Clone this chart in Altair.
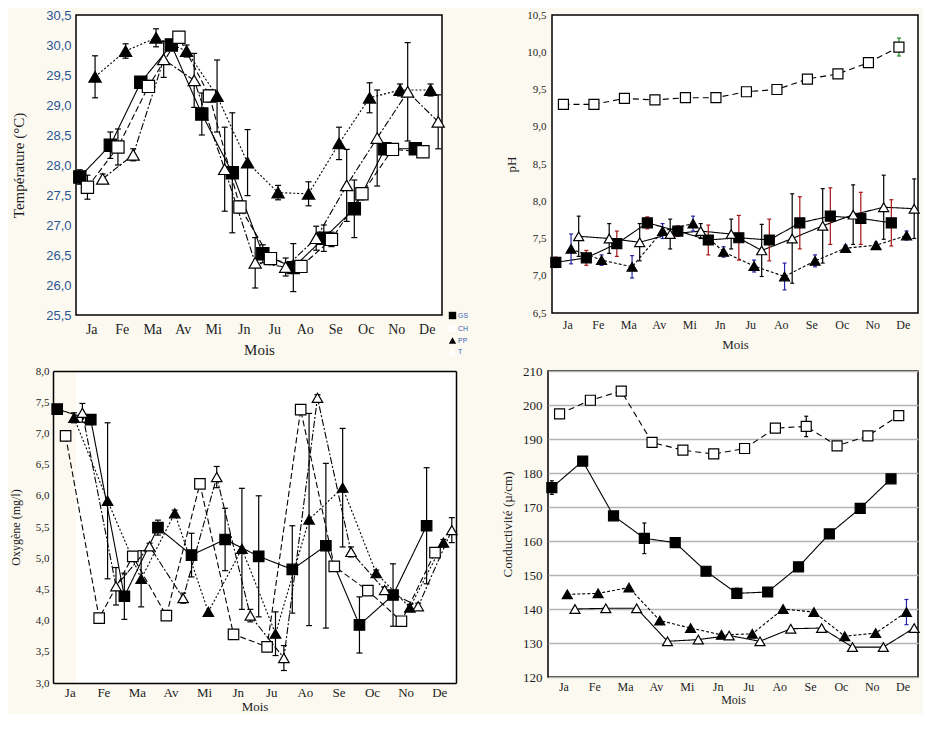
import json
import altair as alt
import pandas as pd

months = ["Ja", "Fe", "Ma", "Av", "Mi", "Jn", "Ju", "Ao", "Se", "Oc", "No", "De"]
series = ["GS", "CH", "PP", "T"]

# ---- Température (°C)
temp_gs = [27.80, 28.33, 29.38, 30.00, 28.85, 27.87, 26.52, 26.29, 26.78, 27.27, 28.27, 28.27]
temp_gs_err = [0.12, 0.22, 0.08, 0.08, 0.35, 1.00, 0.15, 0.40, 0.22, 0.48, 0.05, 0.05]
temp_ch = [27.63, 28.30, 29.31, 30.13, 29.15, 27.30, 26.44, 26.31, 26.76, 27.52, 28.26, 28.22]
temp_ch_err = [0.20, 0.30, 0.10, 0.05, 0.10, 0.10, 0.05, 0.05, 0.12, 0.10, 0.05, 0.05]
temp_pp = [29.47, 29.90, 30.12, 29.90, 29.15, 28.04, 27.54, 27.52, 28.36, 29.12, 29.25, 29.25]
temp_pp_err = [0.35, 0.12, 0.15, 0.10, 0.60, 0.55, 0.12, 0.20, 0.27, 0.25, 0.10, 0.10]
temp_t = [27.77, 28.17, 29.76, 29.41, 27.93, 26.37, 26.30, 26.78, 27.66, 28.45, 29.22, 28.72]
temp_t_err = [0.08, 0.10, 0.30, 0.45, 0.70, 0.42, 0.15, 0.20, 0.60, 0.80, 0.82, 0.45]
temp_ticks = [25.5, 26.0, 26.5, 27.0, 27.5, 28.0, 28.5, 29.0, 29.5, 30.0, 30.5]

# ---- pH
ph_gs = [7.18, 7.24, 7.43, 7.71, 7.60, 7.48, 7.51, 7.48, 7.71, 7.80, 7.77, 7.71]
ph_gs_err = [0.07, 0.10, 0.17, 0.08, 0.07, 0.20, 0.30, 0.28, 0.35, 0.38, 0.35, 0.31]
ph_ch = [9.30, 9.30, 9.38, 9.36, 9.39, 9.39, 9.47, 9.50, 9.64, 9.71, 9.86, 10.07]
ph_ch_err = [0, 0, 0, 0.02, 0, 0, 0, 0, 0, 0, 0, 0.12]
ph_pp = [7.36, 7.21, 7.12, 7.60, 7.70, 7.32, 7.13, 6.99, 7.20, 7.37, 7.41, 7.54]
ph_pp_err = [0.20, 0.07, 0.15, 0.10, 0.10, 0.07, 0.08, 0.18, 0.08, 0.04, 0.04, 0.06]
ph_t = [7.53, 7.50, 7.45, 7.56, 7.60, 7.56, 7.34, 7.50, 7.67, 7.82, 7.92, 7.90]
ph_t_err = [0.27, 0.20, 0.25, 0.20, 0.10, 0.20, 0.35, 0.60, 0.50, 0.40, 0.43, 0.40]
ph_ticks = [6.5, 7.0, 7.5, 8.0, 8.5, 9.0, 9.5, 10.0, 10.5]

# ---- Oxygène (mg/l)
oxy_gs = [7.39, 7.22, 4.39, 5.49, 5.05, 5.30, 5.03, 4.82, 5.20, 3.93, 4.41, 5.52]
oxy_gs_err = [0.05, 0.05, 0.37, 0.12, 0.35, 0.50, 0.97, 0.70, 1.32, 0.45, 0.50, 0.93]
oxy_ch = [6.96, 4.04, 5.03, 4.08, 6.19, 3.78, 3.58, 7.38, 4.87, 4.48, 3.99, 5.09]
oxy_ch_err = [0, 0, 0, 0, 0, 0, 0, 0, 0, 0, 0, 0]
oxy_pp = [7.25, 5.92, 4.67, 5.72, 4.14, 5.15, 3.79, 5.62, 6.13, 4.76, 4.21, 5.25]
oxy_pp_err = [0.08, 1.25, 0.45, 0.05, 0, 0.97, 0.35, 1.70, 0.95, 0.05, 0.05, 0.05]
oxy_t = [7.33, 4.55, 5.19, 4.36, 6.30, 4.08, 3.40, 7.57, 5.10, 4.49, 4.23, 5.45]
oxy_t_err = [0.15, 0.30, 0.05, 0.08, 0.17, 0.10, 0.20, 0.05, 0.08, 0.05, 0.05, 0.20]
oxy_ticks = [3.0, 3.5, 4.0, 4.5, 5.0, 5.5, 6.0, 6.5, 7.0, 7.5, 8.0]

# ---- Conductivité (µ/cm)
cond_gs = [175.7, 183.5, 167.4, 160.8, 159.5, 151.1, 144.6, 145.0, 152.4, 162.1, 169.6, 178.3]
cond_gs_err = [2.0, 0.5, 0.5, 4.5, 0.5, 1.2, 1.5, 1.0, 0.5, 0.5, 0.5, 0.5]
cond_ch = [197.4, 201.4, 204.1, 189.0, 186.7, 185.6, 187.2, 193.2, 193.7, 188.0, 190.9, 196.9]
cond_ch_err = [0, 0, 0, 0, 0, 0, 0, 0, 3.0, 0, 0, 0]
cond_pp = [144.3, 144.6, 146.3, 136.6, 134.4, 132.4, 132.7, 140.0, 139.1, 132.0, 132.9, 139.1]
cond_pp_err = [0, 0, 0, 0, 0, 0, 0, 0, 0, 0, 0, 3.7]
cond_t = [140.0, 140.2, 140.2, 130.5, 131.0, 132.2, 130.5, 134.2, 134.4, 128.8, 128.8, 134.4]
cond_t_err = [0, 0, 0, 0, 0, 0, 0, 0, 0, 0, 0, 0]
cond_ticks = [120, 130, 140, 150, 160, 170, 180, 190, 200, 210]

# ---------------------------------------------------------------- helpers
SERIF = "Liberation Serif"
SANS = "Liberation Sans"
TXT = "#1c1c24"
OFFSET = {"GS": -0.375, "CH": -0.125, "PP": 0.125, "T": 0.375}
month_expr = json.dumps(months) + "[round(datum.value) - 1]"
comma_expr = "replace(format(datum.value, '.1f'), '.', ',')"


def by_series(mapping):
    keys = list(mapping)
    expr = json.dumps(mapping[keys[-1]])
    for k in reversed(keys[:-1]):
        expr = f"datum.s == '{k}' ? {json.dumps(mapping[k])} : ({expr})"
    return expr


def frame(vals, errs):
    rows = []
    for s in series:
        for i, (v, e) in enumerate(zip(vals[s], errs[s])):
            rows.append({"m": i + 1, "s": s, "v": v, "e": e})
    return pd.DataFrame(rows)


def panel(df, c):
    shift = c.get("shift", 0)  # plot area extends this many px left of the view origin
    base = alt.Chart(df).transform_calculate(
        xp=f"datum.m + ({by_series(OFFSET)})",
        lo="datum.v - datum.e",
        hi="datum.v + datum.e",
        ec=by_series(dict(zip(series, c["errcol"]))),
    )
    xaxis = alt.Axis(
        values=list(range(1, 13)), labelExpr=month_expr, title="Mois", grid=False,
        ticks=False, domain=shift > 0, domainColor="black", domainWidth=1.5,
        labelFont=SERIF, labelFontSize=c["xfs"],
        labelColor=TXT, labelPadding=c["xlp"], titleFont=SERIF, titleFontSize=c["tfs"],
        titleFontWeight="normal", titleColor=TXT, titlePadding=c["xtp"], labelFlush=False,
    )
    yaxis = alt.Axis(
        values=c["ticks"], labelExpr=c["lexpr"], title=c["title"], grid=c["grid"],
        gridColor="#b4b4b4", gridWidth=1.5, ticks=False, domain=shift > 0,
        domainColor="black", domainWidth=1.5, offset=shift,
        labelFont=c["yfont"], labelFontSize=c["yfs"], labelColor=c["ycol"],
        labelPadding=c["ylp"], titleFont=SERIF, titleFontSize=c["ytfs"],
        titleFontWeight="normal", titleColor=TXT, titlePadding=c["ytp"], labelFlush=False,
    )
    if shift > 0:
        xs = alt.Scale(domain=[0.5, 12.5], nice=False, zero=False, range=[-shift, c["w"]])
    else:
        xs = alt.Scale(domain=[0.5, 12.5], nice=False, zero=False)
    ys = alt.Scale(domain=[c["ticks"][0], c["ticks"][-1]], nice=False, zero=False)

    if shift > 0:
        top_axis = alt.Axis(orient="top", labels=False, ticks=False, title=None, grid=False,
                            domain=True, domainColor="black", domainWidth=1.5,
                            minExtent=0, maxExtent=0)
        right_axis = alt.Axis(orient="right", labels=False, ticks=False, title=None, grid=False,
                              domain=True, domainColor="black", domainWidth=1.5,
                              minExtent=0, maxExtent=0)
        x_main, y_main = xaxis, yaxis
        x_pts, y_pts = top_axis, right_axis
        x_other = y_other = None
    else:
        x_main = x_pts = x_other = xaxis
        y_main = y_pts = y_other = yaxis

    layers = []
    for k, s in enumerate(series):
        layers.append(
            base.transform_filter(f"datum.s == '{s}'")
            .mark_line(color="black", strokeWidth=1.1, strokeDash=c["dash"][k])
            .encode(
                x=alt.X("xp:Q", scale=xs, axis=x_main if k == 0 else x_other),
                y=alt.Y("v:Q", scale=ys, axis=y_main if k == 0 else y_other),
            )
        )
    ebase = base.transform_filter("datum.e > 0")
    ecol = alt.Color("ec:N", scale=None)
    layers.append(ebase.mark_rule(strokeWidth=1.2).encode(
        x=alt.X("xp:Q", scale=xs, axis=x_other),
        y=alt.Y("lo:Q", scale=ys, axis=y_other), y2="hi:Q", color=ecol))
    for fld in ("lo", "hi"):
        layers.append(ebase.mark_tick(orient="horizontal", size=c["cap"], thickness=1.2, opacity=1).encode(
            x=alt.X("xp:Q", scale=xs, axis=x_other),
            y=alt.Y(f"{fld}:Q", scale=ys, axis=y_other), color=ecol))

    leg = c["legend"]
    layers.append(base.mark_point(size=c["ms"], stroke="black", strokeWidth=1.2, opacity=1, fillOpacity=1).encode(
        x=alt.X("xp:Q", scale=xs, axis=x_pts),
        y=alt.Y("v:Q", scale=ys, axis=y_pts),
        shape=alt.Shape("s:N", scale=alt.Scale(domain=series, range=["square", "square", "triangle-up", "triangle-up"]), legend=leg),
        fill=alt.Fill("s:N", scale=alt.Scale(domain=series, range=["black", "white", "black", "white"]), legend=leg),
    ))
    ch = alt.layer(*layers).properties(width=c["w"], height=c["h"])
    if shift > 0:
        ch = ch.resolve_axis(x="independent", y="independent").properties(
            view=alt.ViewBackground(stroke="transparent", fill="white"))
    return ch


legend1 = alt.Legend(
    title=None, orient="none", legendX=372, legendY=296, labelFont=SANS, labelFontSize=7,
    labelColor="#3a5fb0", symbolSize=55, rowPadding=0, labelOffset=1, padding=0,
    symbolStrokeColor="black", symbolStrokeWidth=1,
)

DASH_A = [[1, 0], [6, 3], [2, 2], [7, 2, 2, 2]]
DASH_B = [[1, 0], [6, 4], [3, 2], [1, 0]]
BLACK4 = ["black", "black", "black", "black"]

p1 = panel(
    frame({"GS": temp_gs, "CH": temp_ch, "PP": temp_pp, "T": temp_t},
          {"GS": temp_gs_err, "CH": temp_ch_err, "PP": temp_pp_err, "T": temp_t_err}),
    dict(w=366, h=300, ticks=temp_ticks, lexpr=comma_expr, title="Température (°C)", grid=False,
         yfont=SANS, yfs=13, ycol="#2c5595", ylp=5, ytfs=15, ytp=19, xfs=14, xlp=7, tfs=15, xtp=6,
         errcol=BLACK4, dash=DASH_A, cap=6, ms=150, legend=legend1),
)
p2 = panel(
    frame({"GS": ph_gs, "CH": ph_ch, "PP": ph_pp, "T": ph_t},
          {"GS": ph_gs_err, "CH": ph_ch_err, "PP": ph_pp_err, "T": ph_t_err}),
    dict(w=366, h=298, ticks=ph_ticks, lexpr=comma_expr, title="pH", grid=False,
         yfont=SERIF, yfs=11, ycol=TXT, ylp=6, ytfs=13, ytp=8, xfs=12, xlp=6, tfs=13, xtp=8,
         errcol=["#a81414", "#1f8a1f", "#2424a8", "black"], dash=DASH_B, cap=4, ms=100, legend=None),
)
p3 = panel(
    frame({"GS": oxy_gs, "CH": oxy_ch, "PP": oxy_pp, "T": oxy_t},
          {"GS": oxy_gs_err, "CH": oxy_ch_err, "PP": oxy_pp_err, "T": oxy_t_err}),
    dict(w=380, h=312, shift=23, ticks=oxy_ticks, lexpr=comma_expr, title="Oxygène (mg/l)", grid=False,
         yfont=SERIF, yfs=11, ycol=TXT, ylp=4, ytfs=12, ytp=13, xfs=13, xlp=3, tfs=13, xtp=1,
         errcol=BLACK4, dash=DASH_A, cap=6, ms=110, legend=None),
)
p4 = panel(
    frame({"GS": cond_gs, "CH": cond_ch, "PP": cond_pp, "T": cond_t},
          {"GS": cond_gs_err, "CH": cond_ch_err, "PP": cond_pp_err, "T": cond_t_err}),
    dict(w=370, h=306, ticks=cond_ticks, lexpr="format(datum.value, 'd')", title="Conductivité (µ/cm)", grid=True,
         yfont=SERIF, yfs=13, ycol=TXT, ylp=6, ytfs=13, ytp=8, xfs=12, xlp=4, tfs=12, xtp=2,
         errcol=["black", "black", "#2424a8", "black"], dash=DASH_B, cap=4, ms=100, legend=None),
)

IND = dict(fill="independent", shape="independent")
row1 = alt.hconcat(p1, p2, spacing=35).resolve_scale(**IND)
row2 = alt.hconcat(p3, p4, spacing=20).resolve_scale(**IND)
chart = (
    alt.vconcat(row1, row2, spacing=6)
    .resolve_scale(**IND)
    .properties(padding={"left": 0, "top": 0, "right": 0, "bottom": 0}, background="#fcfaf0")
    .configure_view(stroke="black", strokeWidth=1.5, fill="white")
)

chart.save("out.html", embed_options={"renderer": "svg", "actions": False})
